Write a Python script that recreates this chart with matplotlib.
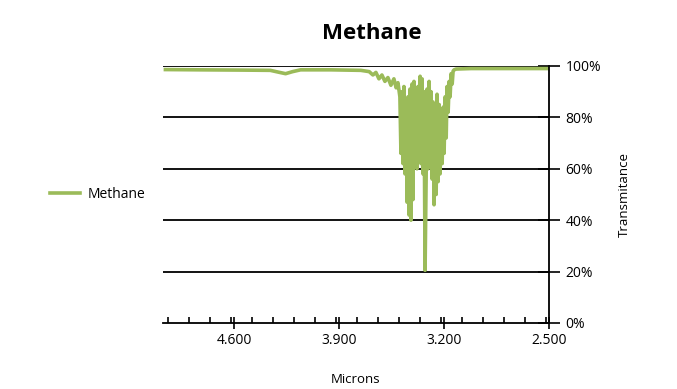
import matplotlib.pyplot as plt
from matplotlib.ticker import MultipleLocator, FuncFormatter

plt.rcParams['font.family'] = ['Open Sans', 'DejaVu Sans']

# IR spectrum of methane
microns = [5.06, 4.83, 4.56, 4.36, 4.306, 4.258, 4.211, 4.158, 3.957, 3.756,
           3.70, 3.675, 3.655, 3.635, 3.615, 3.595, 3.575, 3.555, 3.535, 3.52,
           3.508, 3.495, 3.488, 3.481, 3.474, 3.468, 3.461, 3.454, 3.447, 3.441,
           3.434, 3.428, 3.421, 3.414, 3.408, 3.401, 3.394, 3.387, 3.381, 3.374,
           3.367, 3.360, 3.354, 3.347, 3.341, 3.334, 3.327, 3.320, 3.314, 3.307,
           3.300, 3.294, 3.287, 3.280, 3.274, 3.267, 3.260, 3.253, 3.247, 3.240,
           3.233, 3.227, 3.220, 3.213, 3.206, 3.200, 3.193, 3.186, 3.180, 3.173,
           3.166, 3.160, 3.153, 3.146, 3.140, 3.133, 3.12, 3.02, 2.5]
transmittance = [98.6, 98.5, 98.4, 98.3, 97.6, 97.0, 97.8, 98.5, 98.5, 98.3,
                 97.8, 96.5, 97.5, 95.0, 96.5, 94.0, 95.5, 92.5, 95.0, 91.5,
                 93.5, 88.0, 66.0, 90.0, 62.0, 92.0, 58.0, 86.0, 47.0, 88.0,
                 42.0, 91.0, 40.0, 93.0, 48.0, 94.0, 62.0, 88.0, 60.0, 92.0,
                 64.0, 96.0, 62.0, 95.0, 58.0, 90.0, 20.5, 56.0, 91.0, 60.0,
                 94.0, 66.0, 90.0, 56.0, 86.0, 46.0, 82.0, 50.0, 89.0, 55.0,
                 85.0, 58.0, 80.0, 62.0, 84.0, 66.0, 88.0, 72.0, 92.0, 82.0,
                 94.0, 88.0, 97.0, 93.0, 98.0, 98.5, 98.8, 99.0, 99.0]

x_ticks = [4.6, 3.9, 3.2, 2.5]

fig = plt.figure(figsize=(6.77, 3.89), dpi=100)
ax = fig.add_axes([0.2408, 0.1697, 0.5701, 0.6607])

ax.plot(microns, transmittance, color='#9bbb59', lw=2.6, label='Methane')

ax.set_xlim(5.076, 2.5)
ax.set_ylim(0, 100)

for v in [20, 40, 60, 80, 100]:
    ax.axhline(v, color='black', lw=1.3, zorder=0)

for s in ['top', 'left']:
    ax.spines[s].set_visible(False)
ax.spines['bottom'].set_linewidth(1.3)
ax.spines['right'].set_linewidth(1.3)

ax.set_xticks(x_ticks)
ax.xaxis.set_minor_locator(MultipleLocator(0.14))
ax.xaxis.set_major_formatter(FuncFormatter(lambda v, p: f'{v:.3f}'))
ax.tick_params(axis='x', which='major', direction='inout', length=9, width=1.2,
               labelsize=10, pad=3)
ax.tick_params(axis='x', which='minor', direction='in', length=4, width=1.2)

ax.yaxis.tick_right()
ax.yaxis.set_label_position('right')
ax.set_yticks([0, 20, 40, 60, 80, 100])
ax.yaxis.set_major_formatter(FuncFormatter(lambda v, p: f'{v:.0f}%'))
ax.tick_params(axis='y', direction='inout', length=16, width=1.2,
               labelsize=10, pad=4)

ax.set_xlabel('Microns', fontsize=9.5, labelpad=18)
ax.set_ylabel('Transmitance', fontsize=9.5, labelpad=12)

fig.text(0.549, 0.915, 'Methane', ha='center', va='center', fontsize=16,
         fontweight='bold')

leg = fig.legend(loc='center left', bbox_to_anchor=(0.055, 0.5), frameon=False,
                 fontsize=10, handlelength=2.2, handletextpad=0.5)

fig.savefig('out.png', dpi=100)
